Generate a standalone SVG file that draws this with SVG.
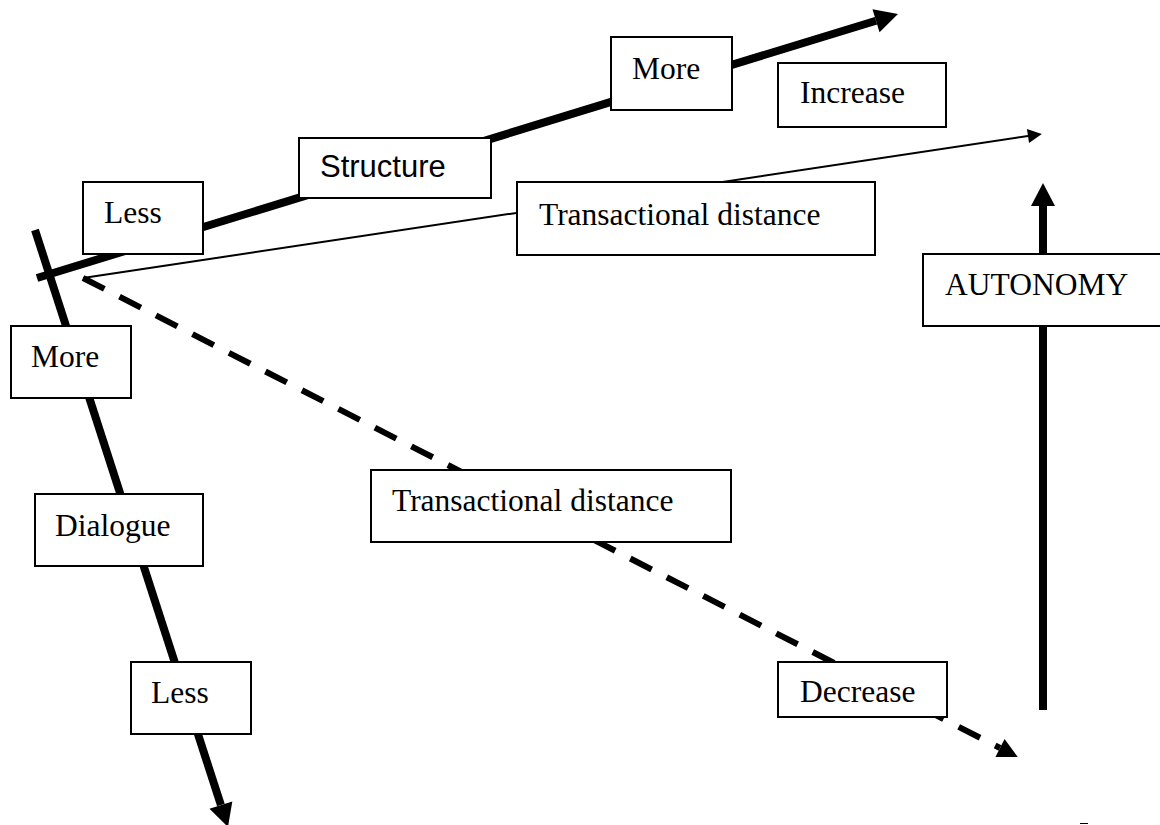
<svg xmlns="http://www.w3.org/2000/svg" width="1160" height="825" viewBox="0 0 1160 825">
<style>
.box{fill:#fff;stroke:#000;stroke-width:2}
.t{font-family:"Liberation Serif","Times New Roman",serif;font-size:31.5px;fill:#000}
.s{font-family:"Liberation Sans",Arial,sans-serif;font-size:31px;fill:#000}
.thick{stroke:#000;stroke-width:8;fill:none}
.thin{stroke:#000;stroke-width:2;fill:none}
.dash{stroke:#000;stroke-width:6;fill:none;stroke-dasharray:24 17}
</style>
<defs>
<marker id="ah-big" markerUnits="userSpaceOnUse" viewBox="0 -12 23 24" markerWidth="23" markerHeight="24" refX="0" refY="0" orient="auto" overflow="visible"><path d="M0,-12 L23,0 L0,12 z" fill="#000"/></marker>
<marker id="ah-dash" markerUnits="userSpaceOnUse" viewBox="0 -10 20 20" markerWidth="20" markerHeight="20" refX="0" refY="0" orient="auto" overflow="visible"><path d="M0,-10 L20,0 L0,10 z" fill="#000"/></marker>
<marker id="ah-thin" markerUnits="userSpaceOnUse" viewBox="0 -7 14 14" markerWidth="14" markerHeight="14" refX="0" refY="0" orient="auto" overflow="visible"><path d="M0,-7 L14,0 L0,7 z" fill="#000"/></marker>
</defs>
<rect width="1160" height="825" fill="#fff"/>
<g id="connectors">
<line id="structure-axis" class="thick" x1="37" y1="278" x2="876" y2="20.7" marker-end="url(#ah-big)"/>
<line id="dialogue-axis" class="thick" x1="35" y1="230" x2="220.9" y2="805.1" marker-end="url(#ah-big)"/>
<line id="autonomy-axis" class="thick" x1="1043" y1="710" x2="1043" y2="206" marker-end="url(#ah-big)"/>
<line id="td-increase" class="thin" x1="83" y1="278" x2="1028" y2="136" marker-end="url(#ah-thin)"/>
<line id="td-decrease" class="dash" x1="83" y1="278" x2="1000" y2="748" marker-end="url(#ah-dash)"/>
<line id="mark" stroke="#000" stroke-width="1" x1="1080" y1="823.5" x2="1088" y2="823.5"/>
</g>
<g id="node-more-top"><rect class="box" x="611" y="37" width="121" height="73"/><text class="t" x="632" y="79">More</text></g>
<g id="node-increase"><rect class="box" x="778" y="63" width="168" height="64"/><text class="t" x="800" y="103">Increase</text></g>
<g id="node-structure"><rect class="box" x="299" y="138" width="192" height="60"/><text class="s" x="320" y="177">Structure</text></g>
<g id="node-less-top"><rect class="box" x="83" y="182" width="120" height="72"/><text class="t" x="104" y="223">Less</text></g>
<g id="node-td-top"><rect class="box" x="517" y="182" width="358" height="73"/><text class="t" x="539" y="225">Transactional distance</text></g>
<g id="node-autonomy"><rect class="box" x="923" y="254" width="240" height="72"/><text class="t" x="945" y="295">AUTONOMY</text></g>
<g id="node-more-left"><rect class="box" x="11" y="326" width="120" height="72"/><text class="t" x="31" y="367">More</text></g>
<g id="node-td-mid"><rect class="box" x="371" y="470" width="360" height="72"/><text class="t" x="392" y="511">Transactional distance</text></g>
<g id="node-dialogue"><rect class="box" x="35" y="494" width="168" height="72"/><text class="t" x="55" y="536">Dialogue</text></g>
<g id="node-decrease"><rect class="box" x="778" y="662" width="169" height="55"/><text class="t" x="800" y="702">Decrease</text></g>
<g id="node-less-bottom"><rect class="box" x="131" y="662" width="120" height="72"/><text class="t" x="151" y="703">Less</text></g>
</svg>
